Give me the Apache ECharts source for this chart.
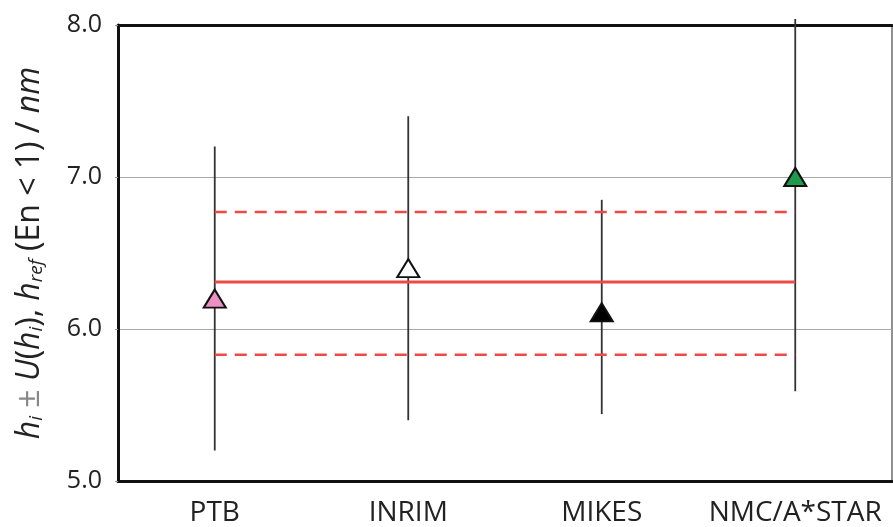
<!DOCTYPE html>
<html lang="en">
  <head>
    <meta charset="utf-8" />
    <title>Comparison results</title>
    <script src="https://cdn.jsdelivr.net/npm/echarts@6/dist/echarts.min.js"></script>
  </head>
  <body style="margin:0; background:#fff;">
    <div id="main" style="width: 893px; height: 527px;"></div>
    <script type="text/javascript">
      const labs = ['PTB', 'INRIM', 'MIKES', 'NMC/A*STAR'];
      const hVals = [6.2, 6.4, 6.11, 7.0];
      const uLow = [5.2, 5.4, 5.44, 5.59];
      const uHigh = [7.2, 7.4, 6.85, 8.04];
      const triColors = ['#ec8fc4', '#ffffff', '#000000', '#1f9a4b'];
      const hRef = [6.31, 6.31, 6.31, 6.31];
      const refUp = [6.77, 6.77, 6.77, 6.77];
      const refDown = [5.83, 5.83, 5.83, 5.83];
      const yTicks = [5.0, 6.0, 7.0, 8.0];

      const myChart = echarts.init(document.getElementById('main'));
      const fnt = '"Open Sans", "Noto Sans", sans-serif';
      const red = '#ec4a44';

      const bars = labs.map((l, i) => [i, uLow[i], uHigh[i]]);
      const pts = labs.map((l, i) => ({
        value: [i, hVals[i]],
        itemStyle: { color: triColors[i] }
      }));

      const option = {
        animation: false,
        grid: {
          left: 118, top: 25, right: 1, bottom: 45,
          show: true, borderColor: '#222', borderWidth: 1
        },
        xAxis: [{
          type: 'category',
          data: labs,
          boundaryGap: true,
          axisLine: { lineStyle: { color: '#111', width: 3 } },
          axisTick: { show: false },
          axisLabel: { color: '#222', fontSize: 28, fontFamily: fnt, margin: 18, interval: 0 }
        }, {
          type: 'category',
          data: labs,
          position: 'top',
          axisLine: { lineStyle: { color: '#111', width: 3 } },
          axisTick: { show: false },
          axisLabel: { show: false }
        }],
        yAxis: {
          type: 'value',
          min: 5, max: 8, interval: 1,
          axisLine: { show: true, lineStyle: { color: '#111', width: 3 } },
          axisTick: { show: true, length: 3, lineStyle: { color: '#999' } },
          splitLine: { lineStyle: { color: '#a8a8a8', width: 1 } },
          axisLabel: {
            color: '#222', fontSize: 25, fontFamily: fnt, margin: 16,
            formatter: v => yTicks.includes(v) ? v.toFixed(1) : ''
          },
          name: '{it|h}{sub|i}{pm| ± }{it|U}{n|(}{it|h}{sub|i}{n|), }{it|h}{sub|ref}{n| (En < 1) / }{it|nm}',
          nameLocation: 'middle',
          nameGap: 72,
          nameRotate: 90,
          nameTextStyle: {
            rich: {
              it: { fontStyle: 'italic', fontSize: 32, fontFamily: fnt, color: '#222' },
              n: { fontSize: 32, fontFamily: fnt, color: '#222' },
              pm: { fontSize: 32, fontFamily: fnt, color: '#888' },
              sub: { fontStyle: 'italic', fontSize: 19, fontFamily: fnt, color: '#222',
                     verticalAlign: 'bottom', padding: [12, 0, 0, 0] }
            }
          }
        },
        series: [
          {
            type: 'line', data: refUp, symbol: 'none', silent: true,
            lineStyle: { color: red, width: 2.5, type: [12, 8] }
          },
          {
            type: 'line', data: refDown, symbol: 'none', silent: true,
            lineStyle: { color: red, width: 2.5, type: [12, 8] }
          },
          {
            type: 'line', data: hRef, symbol: 'none', silent: true,
            lineStyle: { color: red, width: 3 }
          },
          {
            type: 'custom',
            data: bars,
            clip: false,
            renderItem: (params, api) => {
              const a = api.coord([api.value(0), api.value(1)]);
              const b = api.coord([api.value(0), api.value(2)]);
              return {
                type: 'line',
                shape: { x1: a[0], y1: a[1], x2: b[0], y2: b[1] },
                style: { stroke: '#333', lineWidth: 1.8 }
              };
            },
            z: 3
          },
          {
            type: 'scatter',
            data: pts,
            symbol: 'triangle',
            symbolSize: [22, 18],
            itemStyle: { borderColor: '#111', borderWidth: 2, opacity: 1 },
            z: 4
          }
        ]
      };
      myChart.setOption(option);
    </script>
  </body>
</html>
